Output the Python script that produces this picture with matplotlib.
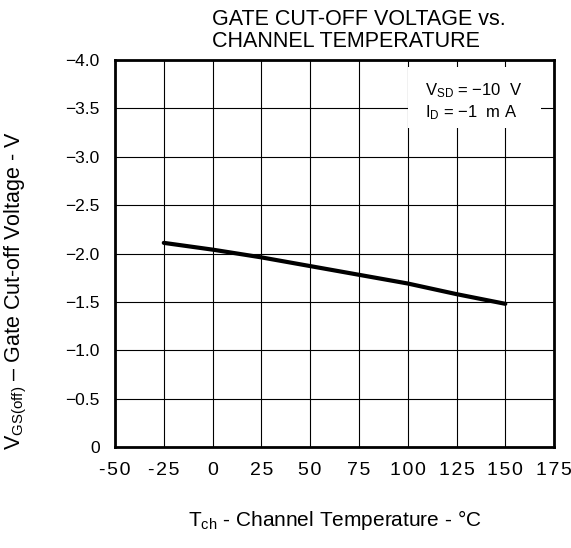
import numpy as np
import matplotlib.pyplot as plt
from matplotlib.patches import Rectangle

plt.rcParams['font.family'] = ['Liberation Sans', 'DejaVu Sans']
plt.rcParams['mathtext.fontset'] = 'custom'
plt.rcParams['mathtext.rm'] = 'Liberation Sans'

# channel temperature (C) and gate cut-off voltage (V)
temp = [-25, 0, 25, 50, 75, 100, 125, 150]
vgs_off = [-2.11, -2.04, -1.96, -1.87, -1.78, -1.69, -1.58, -1.48]

x_ticks = [-50, -25, 0, 25, 50, 75, 100, 125, 150, 175]
y_ticks = [0, -0.5, -1.0, -1.5, -2.0, -2.5, -3.0, -3.5, -4.0]
y_labels = ['0', '\u22120.5', '\u22121.0', '\u22121.5', '\u22122.0',
            '\u22122.5', '\u22123.0', '\u22123.5', '\u22124.0']

fig = plt.figure(figsize=(5.71, 5.48), dpi=100)
ax = fig.add_axes([0.2014, 0.1843, 0.769, 0.7062])

ax.plot(temp, vgs_off, color='black', lw=3, solid_capstyle='round', zorder=4)

ax.set_xlim(-50, 175)
ax.set_ylim(0, -4.0)
ax.set_xticks(x_ticks)
# spread digits a little like the original
ax.set_xticklabels(['\u200a'.join(str(t)) for t in x_ticks])
ax.set_yticks(y_ticks)
ax.set_yticklabels(y_labels)
ax.tick_params(length=0)
ax.tick_params(axis='x', labelsize=14, pad=11)
ax.tick_params(axis='y', labelsize=12.5, pad=11)
ax.grid(True, color='black', lw=0.8)
for s in ax.spines.values():
    s.set_linewidth(2)

# white box hiding grid behind the conditions
ax.add_patch(Rectangle((0.667, 0.824), 0.303, 0.158, transform=ax.transAxes,
                       facecolor='white', edgecolor='none', zorder=2.5))
ax.text(0.705, 0.91, '$\\mathregular{V_{SD}}$ = \u221210  V',
        transform=ax.transAxes, ha='left', va='baseline', fontsize=12,
        zorder=3)
ax.text(0.705, 0.852, '$\\mathregular{I_{D}}$ = \u22121  m A',
        transform=ax.transAxes, ha='left', va='baseline', fontsize=12,
        zorder=3)

# two-line title, left aligned
fig.text(0.3713, 1 - 25 / 548, 'GATE CUT-OFF VOLTAGE vs.',
         fontsize=15.5, ha='left', va='baseline')
fig.text(0.3713, 1 - 46.7 / 548, 'CHANNEL TEMPERATURE',
         fontsize=15.5, ha='left', va='baseline')

ax.set_xlabel('$\\mathregular{T_{ch}}$ - Channel Temperature - \u00b0C',
              fontsize=15, va='baseline')
ax.xaxis.set_label_coords(0.5, -0.205)
ax.set_ylabel('$\\mathregular{V_{GS(off)}}$ \u2013 Gate Cut-off Voltage - V',
              fontsize=15.5)
ax.yaxis.set_label_coords(-0.195, 0.403)

fig.savefig('out.png', dpi=100)
